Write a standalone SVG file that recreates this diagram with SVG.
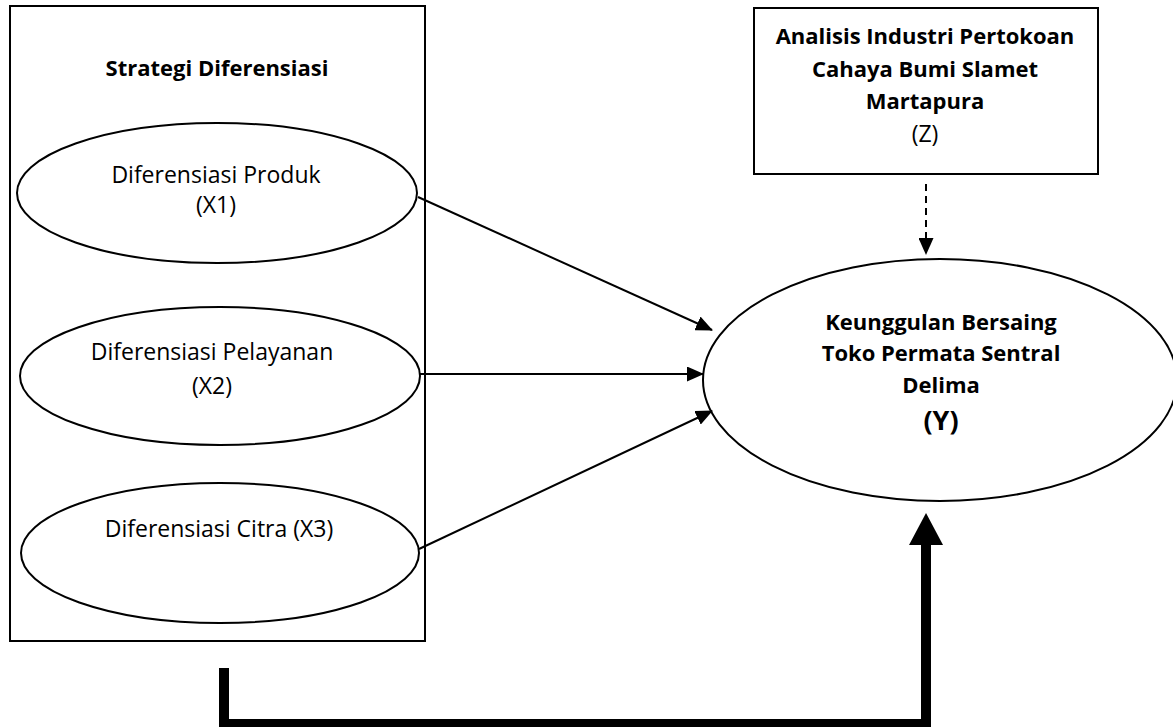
<svg xmlns="http://www.w3.org/2000/svg" width="1173" height="727" viewBox="0 0 1173 727">
<style>
.box{fill:#fff;stroke:#000;stroke-width:2}
.ell{fill:#fff;stroke:#000;stroke-width:2}
.t{font-family:"Open Sans","Liberation Sans",sans-serif;font-size:23px;fill:#000;text-anchor:middle}
.b{font-weight:bold;font-size:22px}
.ln{stroke:#000;stroke-width:2;fill:none}
.thick{stroke:#000;stroke-width:10;fill:none}
</style>
<defs>
<marker id="ah" markerUnits="userSpaceOnUse" markerWidth="17" markerHeight="15" refX="16" refY="7.5" orient="auto">
<path d="M0,0 L17,7.5 L0,15 Z" fill="#000"/>
</marker>
</defs>
<rect width="1173" height="727" fill="#fff"/>
<g id="strategi">
<rect class="box" x="10" y="6" width="415" height="635"/>
<text class="t b" x="217" y="76">Strategi Diferensiasi</text>
</g>
<g id="x1">
<ellipse class="ell" cx="217" cy="193" rx="200" ry="70"/>
<text class="t" x="216" y="183">Diferensiasi Produk</text>
<text class="t" x="216" y="213">(X1)</text>
</g>
<g id="x2">
<ellipse class="ell" cx="220" cy="376" rx="200" ry="69"/>
<text class="t" x="212" y="360">Diferensiasi Pelayanan</text>
<text class="t" x="212" y="394">(X2)</text>
</g>
<g id="x3">
<ellipse class="ell" cx="220" cy="553" rx="199" ry="70"/>
<text class="t" x="219" y="537">Diferensiasi Citra (X3)</text>
</g>
<g id="z">
<rect class="box" x="754" y="8" width="344" height="166"/>
<text class="t b" x="925" y="44">Analisis Industri Pertokoan</text>
<text class="t b" x="925" y="77">Cahaya Bumi Slamet</text>
<text class="t b" x="925" y="109">Martapura</text>
<text class="t" x="925" y="142">(Z)</text>
</g>
<g id="y">
<ellipse class="ell" cx="940" cy="380" rx="237" ry="121"/>
<text class="t b" x="941" y="330">Keunggulan Bersaing</text>
<text class="t b" x="941" y="361">Toko Permata Sentral</text>
<text class="t b" x="941" y="393">Delima</text>
<text class="t b" x="941" y="430" style="font-size:27px">(Y)</text>
</g>
<g id="connectors">
<line class="ln" x1="418" y1="197" x2="712" y2="330" marker-end="url(#ah)"/>
<line class="ln" x1="420" y1="374" x2="703" y2="374" marker-end="url(#ah)"/>
<line class="ln" x1="419" y1="549" x2="712" y2="411" marker-end="url(#ah)"/>
<line class="ln" x1="926" y1="184" x2="926" y2="254" stroke-dasharray="7,5" marker-end="url(#ah)"/>
<path class="thick" d="M224,668 V724 H926 V543"/>
<path d="M909,545 L926,513 L943,545 Z" fill="#000"/>
</g>
</svg>
